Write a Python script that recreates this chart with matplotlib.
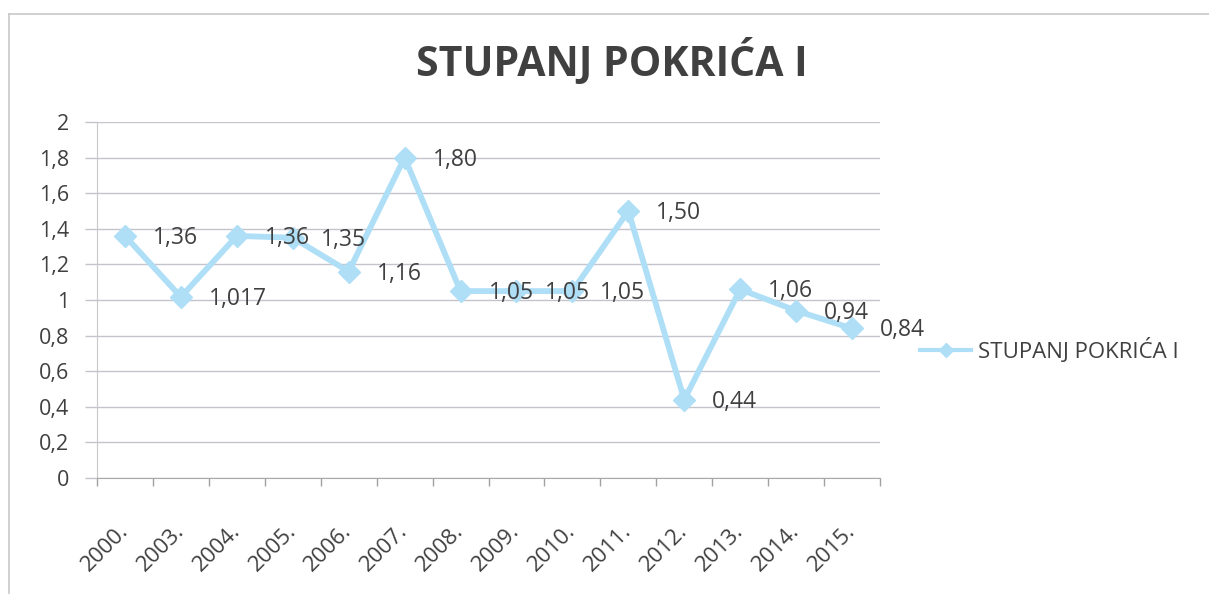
import matplotlib
matplotlib.use("Agg")
import matplotlib.pyplot as plt
import numpy as np
from matplotlib.lines import Line2D

years = ["2000.", "2003.", "2004.", "2005.", "2006.", "2007.", "2008.",
         "2009.", "2010.", "2011.", "2012.", "2013.", "2014.", "2015."]
values = [1.36, 1.017, 1.36, 1.35, 1.16, 1.80, 1.05,
          1.05, 1.05, 1.50, 0.44, 1.06, 0.94, 0.84]
value_labels = ["1,36", "1,017", "1,36", "1,35", "1,16", "1,80", "1,05",
                "1,05", "1,05", "1,50", "0,44", "1,06", "0,94", "0,84"]
y_ticks = [0, 0.2, 0.4, 0.6, 0.8, 1.0, 1.2, 1.4, 1.6, 1.8, 2.0]
y_tick_labels = ["0", "0,2", "0,4", "0,6", "0,8", "1", "1,2", "1,4", "1,6", "1,8", "2"]
series_name = "STUPANJ POKRIĆA I"
title = "STUPANJ POKRIĆA I"

plt.rcParams['font.family'] = ['Open Sans', 'DejaVu Sans']
TXT = "#404040"
LINE = "#afdff7"
GRID = "#c4c4cc"

W, H = 1209, 594
fig = plt.figure(figsize=(W / 100, H / 100), dpi=100)
fig.patch.set_facecolor("white")

# outer frame (top and left edges visible)
fig.add_artist(Line2D([9 / W, 9 / W], [0, 1 - 14 / H], transform=fig.transFigure,
                      color="#c8c8c8", lw=1.2))
fig.add_artist(Line2D([9 / W, 1], [1 - 14 / H, 1 - 14 / H], transform=fig.transFigure,
                      color="#c8c8c8", lw=1.2))

left, right = 97 / W, 880 / W
bottom, top = 1 - 478 / H, 1 - 122 / H
ax = fig.add_axes([left, bottom, right - left, top - bottom])

x = np.arange(len(years))
ax.plot(x, values, color=LINE, lw=4.2, marker="D", markersize=11.5,
        markerfacecolor=LINE, markeredgecolor=LINE, zorder=3, solid_joinstyle="miter")

for xi, yi, lab in zip(x, values, value_labels):
    ax.annotate(lab, (xi, yi), xytext=(28, -2), textcoords="offset pixels",
                ha="left", va="center", fontsize=16.5, color=TXT, zorder=4)

ax.set_xlim(-0.5, len(years) - 0.5)
ax.set_ylim(0, 2)
ax.set_yticks(y_ticks)
ax.set_yticklabels(y_tick_labels)
ax.grid(axis="y", color=GRID, lw=1.0)
ax.set_axisbelow(True)

ax.set_xticks(x)
ax.set_xticklabels(years, rotation=45, ha="right", va="center", rotation_mode="anchor")
ax.set_xticks(np.arange(-0.5, len(years), 1), minor=True)
ax.tick_params(axis="x", which="major", length=0, pad=36, labelsize=16, labelcolor=TXT)
ax.tick_params(axis="x", which="minor", length=6, color="#a0a0a0", width=1)
ax.tick_params(axis="y", length=9, color=GRID, width=1, pad=11, labelsize=15.5, labelcolor=TXT)

for s in ["top", "right"]:
    ax.spines[s].set_visible(False)
ax.spines["left"].set_color("#c8c8c8")
ax.spines["bottom"].set_color("#a8a8a8")

fig.text(612 / W, 1 - 62 / H, title, ha="center", va="center", fontsize=29.5,
         fontweight="bold", color=TXT)

# legend
leg = ax.legend([Line2D([], [], color=LINE, lw=3, marker="D", markersize=7,
                        markerfacecolor=LINE, markeredgecolor=LINE)],
                [series_name], loc="center left", bbox_to_anchor=(920 / W, 1 - 350 / H),
                bbox_transform=fig.transFigure, frameon=False, fontsize=16,
                handlelength=2.3, handletextpad=0.3, borderaxespad=0, borderpad=0)
for t in leg.get_texts():
    t.set_color(TXT)

fig.savefig("out.png", dpi=100, facecolor="white")
